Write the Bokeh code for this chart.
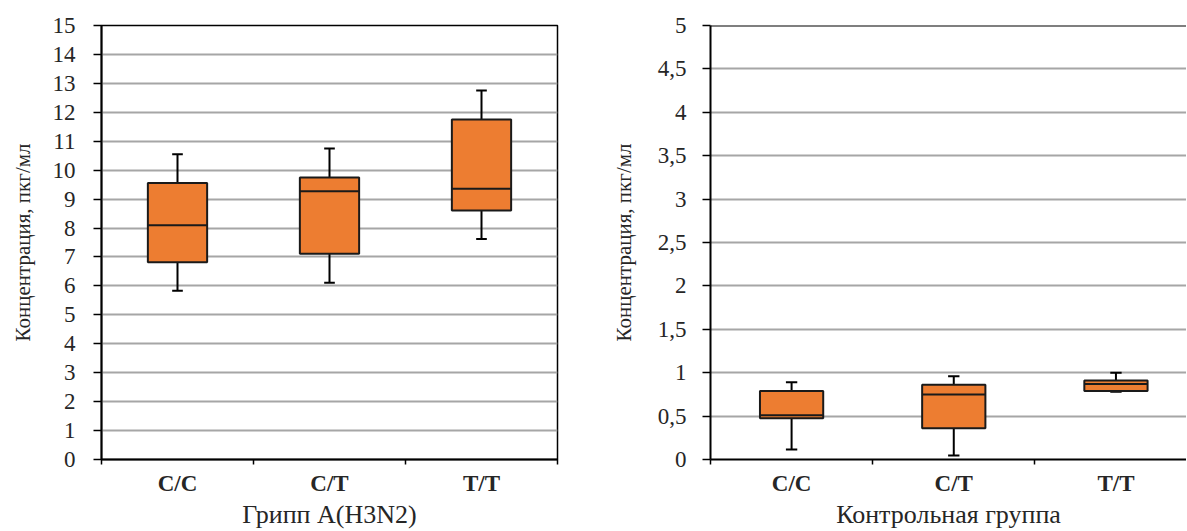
from bokeh.plotting import figure
from bokeh.layouts import row
from bokeh.models import (Range1d, FixedTicker, CustomJSTickFormatter,
                          ColumnDataSource, Span)
from bokeh.embed import file_html
from bokeh.resources import INLINE

categories = ["C/C", "C/T", "T/T"]

# Грипп A(H3N2)
flu_low = [5.83, 6.11, 7.62]
flu_q1 = [6.82, 7.11, 8.61]
flu_med = [8.10, 9.27, 9.36]
flu_q3 = [9.56, 9.75, 11.75]
flu_high = [10.55, 10.75, 12.75]

# Контрольная группа
ctl_low = [0.115, 0.046, 0.78]
ctl_q1 = [0.475, 0.36, 0.79]
ctl_med = [0.51, 0.75, 0.87]
ctl_q3 = [0.79, 0.86, 0.91]
ctl_high = [0.89, 0.96, 1.00]

flu_yticks = list(range(0, 16))
ctl_yticks = [i * 0.5 for i in range(0, 11)]

FONT = "'Liberation Serif', serif"
ORANGE = "#ED7D31"
GRID = "#A6A6A6"
BOX_W = 0.39
CAP_W = 0.07
H = 531


def panel(low, q1, med, q3, high, yticks, ymax, xtitle, width, mbl, mbr,
          xend, comma, outline, ytitle_standoff):
    xs = [i + 0.5 for i in range(len(categories))]
    src = ColumnDataSource(dict(
        x=xs, low=low, q1=q1, med=med, q3=q3, high=high,
        x0=[x - BOX_W / 2 for x in xs], x1=[x + BOX_W / 2 for x in xs],
        c0=[x - CAP_W / 2 for x in xs], c1=[x + CAP_W / 2 for x in xs],
    ))
    p = figure(width=width, height=H, output_backend="svg",
               toolbar_location=None,
               x_range=Range1d(0, xend), y_range=Range1d(0, ymax),
               min_border_left=mbl, min_border_right=mbr,
               min_border_top=25, min_border_bottom=71)
    p.background_fill_color = "white"
    p.border_fill_color = "white"
    if outline:
        p.outline_line_color = "black"
        p.outline_line_width = 1.5
    else:
        p.outline_line_color = None
        p.add_layout(Span(location=ymax, dimension="width",
                          line_color="black", line_width=2))

    # whiskers
    p.segment(x0="x", y0="low", x1="x", y1="q1", source=src,
              line_color="black", line_width=2)
    p.segment(x0="x", y0="q3", x1="x", y1="high", source=src,
              line_color="black", line_width=2)
    p.segment(x0="c0", y0="low", x1="c1", y1="low", source=src,
              line_color="black", line_width=2)
    p.segment(x0="c0", y0="high", x1="c1", y1="high", source=src,
              line_color="black", line_width=2)
    # boxes
    p.vbar(x="x", width=BOX_W, bottom="q1", top="q3", source=src,
           fill_color=ORANGE, line_color="#1a1a1a", line_width=2)
    p.segment(x0="x0", y0="med", x1="x1", y1="med", source=src,
              line_color="#1a1a1a", line_width=2)

    # grid
    p.xgrid.visible = False
    p.ygrid.grid_line_color = GRID
    p.ygrid.grid_line_width = 2
    p.ygrid.ticker = FixedTicker(ticks=yticks)

    # x axis
    xa = p.xaxis[0]
    xa.ticker = FixedTicker(ticks=xs, minor_ticks=list(range(len(categories) + 1)))
    xa.formatter = CustomJSTickFormatter(
        args=dict(labels=categories),
        code="return labels[Math.round(tick - 0.5)];")
    xa.major_tick_line_color = None
    xa.minor_tick_line_color = "black"
    xa.minor_tick_line_width = 1.5
    xa.minor_tick_out = 5
    xa.minor_tick_in = 0
    xa.axis_line_color = "black"
    xa.axis_line_width = 2
    xa.major_label_text_font = FONT
    xa.major_label_text_font_style = "bold"
    xa.major_label_text_font_size = "23px"
    xa.major_label_text_color = "#262626"
    xa.major_label_standoff = 5
    xa.axis_label = xtitle
    xa.axis_label_text_font = FONT
    xa.axis_label_text_font_style = "normal"
    xa.axis_label_text_font_size = "26px"
    xa.axis_label_text_color = "#262626"
    xa.axis_label_standoff = 1

    # y axis
    ya = p.yaxis[0]
    ya.ticker = FixedTicker(ticks=yticks, minor_ticks=[])
    if comma:
        ya.formatter = CustomJSTickFormatter(
            code="return tick.toString().replace('.', ',');")
    else:
        ya.formatter = CustomJSTickFormatter(code="return tick.toString();")
    ya.major_tick_line_color = "black"
    ya.major_tick_line_width = 1.5
    ya.major_tick_out = 8
    ya.major_tick_in = 0
    ya.minor_tick_line_color = None
    ya.axis_line_color = "black"
    ya.axis_line_width = 2
    ya.major_label_text_font = FONT
    ya.major_label_text_font_size = "23px"
    ya.major_label_text_color = "#262626"
    ya.major_label_standoff = 18 if not comma else 16
    ya.axis_label = "Концентрация, пкг/мл"
    ya.axis_label_text_font = FONT
    ya.axis_label_text_font_style = "normal"
    ya.axis_label_text_font_size = "21px"
    ya.axis_label_text_color = "#262626"
    ya.axis_label_standoff = ytitle_standoff
    return p


p1 = panel(flu_low, flu_q1, flu_med, flu_q3, flu_high, flu_yticks, 15,
           "Грипп A(H3N2)", 608, 101, 51, 3, False, True, 15)
p2 = panel(ctl_low, ctl_q1, ctl_med, ctl_q3, ctl_high, ctl_yticks, 5,
           "Контрольная группа", 578, 100, 0, 2.935, True, False, 19)

layout = row(p1, p2, spacing=0)
open("out.html", "w").write(file_html(layout, INLINE))
